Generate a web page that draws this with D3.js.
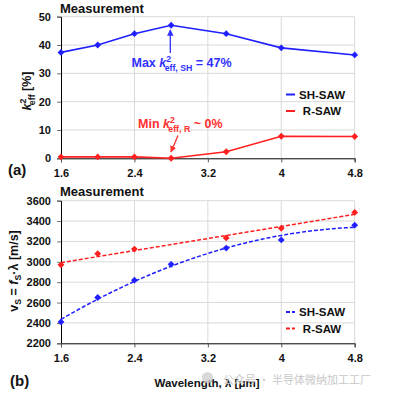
<!DOCTYPE html>
<html lang="en">
<head>
<meta charset="utf-8"/>
<title>Measurement – k2eff and vS vs wavelength</title>
<script src="https://cdn.jsdelivr.net/npm/d3@7/dist/d3.min.js"></script>
<style>
  html, body { margin:0; padding:0; background:#fff; }
  svg { display:block; font-family:"Liberation Sans", Arial, sans-serif; font-weight:bold; }
  .grid line { stroke:#d9d9d9; }
  .tick text { font-size:11px; font-weight:bold; fill:#111; }
</style>
</head>
<body>
<svg width="395" height="397"></svg>
<script>
// data
const xTicks   = [1.6, 2.4, 3.2, 4, 4.8];
const kTicks   = [0, 10, 20, 30, 40, 50];
const vTicks   = [2200, 2400, 2600, 2800, 3000, 3200, 3400, 3600];

const lamSH    = [1.6, 2.0, 2.4, 2.8, 3.4, 4.0, 4.8];
const kSH      = [37.4, 40, 44, 47, 44, 39, 36.5];
const lamR     = [1.6, 2.0, 2.4, 2.8, 3.4, 4.0, 4.8];
const kR       = [0.5, 0.5, 0.5, 0, 2.3, 7.8, 7.7];

const vLamSH   = [1.6, 2.0, 2.4, 2.8, 3.4, 4.0, 4.8];
const vSH      = [2410, 2650, 2820, 2975, 3135, 3215, 3360];
const vLamR    = [1.6, 2.0, 2.4, 3.4, 4.0, 4.8];
const vR       = [2970, 3080, 3125, 3235, 3330, 3485];

const BLUE = "#1f1fff", RED = "#ff1f1f";
const svg = d3.select("svg");

// least squares polynomial fit (trendlines like the spreadsheet ones)
function polyFit(xs, ys, deg) {
  const n = deg + 1;
  const A = Array.from({length:n}, () => new Array(n + 1).fill(0));
  xs.forEach((x, k) => {
    for (let i = 0; i < n; i++) {
      for (let j = 0; j < n; j++) A[i][j] += Math.pow(x, i + j);
      A[i][n] += ys[k] * Math.pow(x, i);
    }
  });
  for (let i = 0; i < n; i++) {
    for (let r = i + 1; r < n; r++) {
      const f = A[r][i] / A[i][i];
      for (let c = i; c <= n; c++) A[r][c] -= f * A[i][c];
    }
  }
  const co = new Array(n).fill(0);
  for (let i = n - 1; i >= 0; i--) {
    let s = A[i][n];
    for (let j = i + 1; j < n; j++) s -= A[i][j] * co[j];
    co[i] = s / A[i][i];
  }
  return x => co.reduce((s, c, i) => s + c * Math.pow(x, i), 0);
}

const x = d3.scaleLinear().domain([1.6, 4.8]).range([61, 354.7]);
const diamond = d3.symbol().type(d3.symbolDiamond2).size(30);

function frame(y, yTicks, top, bottom) {
  const g = svg.append("g");
  g.append("g").attr("class", "grid").selectAll("line")
    .data(yTicks.slice(1)).join("line")
      .attr("x1", 61).attr("x2", 354.7)
      .attr("y1", d => y(d)).attr("y2", d => y(d));
  g.append("g").attr("class", "grid").selectAll("line")
    .data(xTicks.slice(1)).join("line")
      .attr("x1", d => x(d)).attr("x2", d => x(d))
      .attr("y1", top).attr("y2", bottom);

  const ya = g.append("g").attr("transform", "translate(61,0)")
    .call(d3.axisLeft(y).tickValues(yTicks).tickSize(4).tickPadding(6).tickFormat(d3.format("d")));
  ya.select(".domain").attr("stroke", "#000");
  ya.selectAll(".tick line").attr("stroke", "#777");

  const xa = g.append("g").attr("transform", `translate(0,${bottom})`)
    .call(d3.axisBottom(x).tickValues(xTicks).tickSize(4).tickPadding(7).tickFormat(d => d));
  xa.select(".domain").attr("stroke", "#000");
  xa.selectAll(".tick line").attr("stroke", "#555");
}

function series(px, py, xs, ys, color, withLine) {
  const pts = xs.map((d, i) => [d, ys[i]]);
  if (withLine) {
    svg.append("path").datum(pts)
      .attr("fill", "none").attr("stroke", color).attr("stroke-width", 1.6)
      .attr("d", d3.line().x(d => px(d[0])).y(d => py(d[1])));
  }
  svg.append("g").selectAll("path").data(pts).join("path")
    .attr("transform", d => `translate(${px(d[0])},${py(d[1])})`)
    .attr("d", diamond).attr("fill", color);
}

function legend(y0, dashed) {
  [["SH-SAW", BLUE], ["R-SAW", RED]].forEach(([name, c], i) => {
    const yy = y0 + i * 16.5;
    svg.append("line").attr("x1", 286).attr("x2", 295).attr("y1", yy).attr("y2", yy)
      .attr("stroke", c).attr("stroke-width", 2)
      .attr("stroke-dasharray", dashed ? "4,2" : null);
    svg.append("text").attr("x", 322).attr("y", yy + 4).attr("text-anchor", "middle")
      .attr("font-size", 11.5).attr("fill", "#111").text(name);
  });
}

// k2 label with stacked sup/sub
function kLabel(sel, sub) {
  sel.append("tspan").attr("font-style", "italic").text("k");
  sel.append("tspan").attr("font-size", "0.7em").attr("dy", -5).text("2");
  sel.append("tspan").attr("font-size", "0.7em").attr("dx", -6.5).attr("dy", 9).text(sub);
}

// ---------- panel (a) ----------
const yA = d3.scaleLinear().domain([0, 50]).range([158.3, 16.7]);
frame(yA, kTicks, 16.7, 158.3);
series(x, yA, lamSH, kSH, BLUE, true);
series(x, yA, lamR, kR, RED, true);
legend(94.5, false);

svg.append("text").attr("x", 60).attr("y", 12.5).attr("font-size", 13).attr("fill", "#111").text("Measurement");
svg.append("text").attr("x", 8).attr("y", 175).attr("font-size", 15).attr("fill", "#111").text("(a)");

const ylabA = svg.append("text").attr("transform", "translate(31,91) rotate(-90)")
  .attr("text-anchor", "middle").attr("font-size", 12.5).attr("fill", "#111");
kLabel(ylabA, "eff");
ylabA.append("tspan").attr("dy", -4).text(" [%]");

const maxT = svg.append("text").attr("x", 131.5).attr("y", 67).attr("font-size", 12.5).attr("fill", "#3030ff");
maxT.append("tspan").text("Max ");
kLabel(maxT, "eff, SH");
maxT.append("tspan").attr("dy", -4).text(" = 47%");

const minT = svg.append("text").attr("x", 138).attr("y", 128).attr("font-size", 12.5).attr("fill", "#ff3030");
minT.append("tspan").text("Min ");
kLabel(minT, "eff, R");
minT.append("tspan").attr("dy", -4).text(" ~ 0%");

const defs = svg.append("defs");
[["arrB", "#3030ff"], ["arrR", "#ff3030"]].forEach(([id, c]) => {
  defs.append("marker").attr("id", id).attr("viewBox", "0 0 10 10")
    .attr("refX", 9).attr("refY", 5).attr("markerWidth", 5).attr("markerHeight", 5)
    .attr("orient", "auto")
    .append("path").attr("d", "M0,0L10,5L0,10z").attr("fill", c);
});
svg.append("line").attr("x1", 170.3).attr("y1", 53).attr("x2", 170.3).attr("y2", 30)
  .attr("stroke", "#3030ff").attr("stroke-width", 1.3).attr("marker-end", "url(#arrB)");
svg.append("line").attr("x1", 178).attr("y1", 135.5).attr("x2", 171).attr("y2", 152)
  .attr("stroke", "#ff3030").attr("stroke-width", 1.3).attr("marker-end", "url(#arrR)");

// ---------- panel (b) ----------
const yB = d3.scaleLinear().domain([2200, 3600]).range([343.3, 200.7]);
frame(yB, vTicks, 200.7, 343.3);

const fitSH = polyFit(vLamSH, vSH, 2);
const fitR  = polyFit(vLamR, vR, 1);
const xs = d3.range(1.6, 4.81, 0.05);
[[fitSH, BLUE], [fitR, RED]].forEach(([f, c]) => {
  svg.append("path").datum(xs)
    .attr("fill", "none").attr("stroke", c).attr("stroke-width", 1.5).attr("stroke-dasharray", "4,2")
    .attr("d", d3.line().x(d => x(d)).y(d => yB(f(d))));
});
series(x, yB, vLamSH, vSH, BLUE, false);
series(x, yB, vLamR, vR, RED, false);
legend(312, true);

svg.append("text").attr("x", 60).attr("y", 196).attr("font-size", 13).attr("fill", "#111").text("Measurement");
svg.append("text").attr("x", 10).attr("y", 386).attr("font-size", 15).attr("fill", "#111").text("(b)");

const ylabB = svg.append("text").attr("transform", "translate(18,271) rotate(-90)")
  .attr("text-anchor", "middle").attr("font-size", 12.5).attr("fill", "#111");
ylabB.append("tspan").text("v");
ylabB.append("tspan").attr("font-size", "0.7em").attr("dy", 3).text("S");
ylabB.append("tspan").attr("dy", -3).text(" = ");
ylabB.append("tspan").attr("font-style", "italic").text("f");
ylabB.append("tspan").attr("font-size", "0.7em").attr("dy", 3).text("S");
ylabB.append("tspan").attr("dy", -3).text("·λ  [m/s]");

svg.append("text").attr("x", 207).attr("y", 387).attr("text-anchor", "middle")
  .attr("font-size", 11.5).attr("fill", "#111").text("Wavelength, λ [μm]");

// watermark
svg.append("circle").attr("cx", 207.5).attr("cy", 377.5).attr("r", 5.5).attr("fill", "#d0d0d0").attr("opacity", 0.8);
svg.append("text").attr("x", 223).attr("y", 384).attr("font-size", 11)
  .attr("font-family", "Noto Sans CJK SC").attr("font-weight", "normal").attr("fill", "#c8c8c8")
  .text("公众号 · 半导体微纳加工工厂");
</script>
</body>
</html>
